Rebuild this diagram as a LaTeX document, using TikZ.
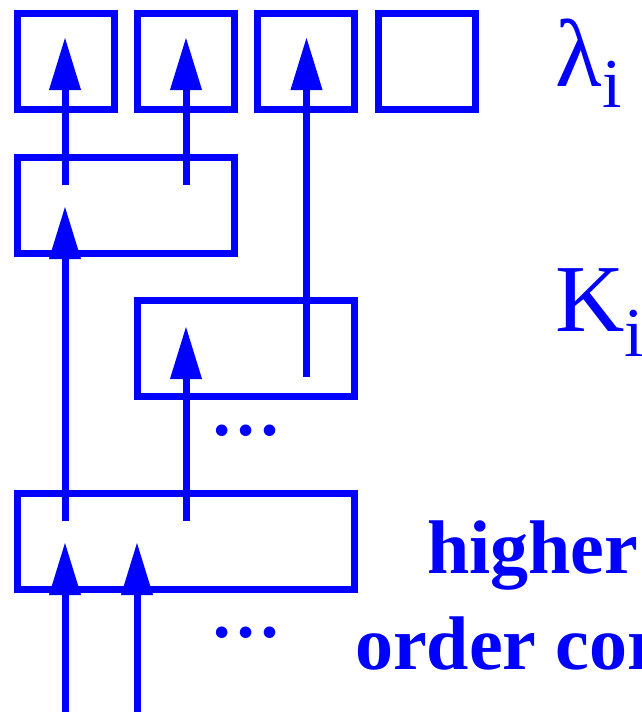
\documentclass[tikz,border=0pt]{standalone}
\usepackage{fontspec}
\setmainfont{Liberation Serif}
\usetikzlibrary{arrows.meta}
\definecolor{pureblue}{RGB}{0,0,255}
\begin{document}
\begin{tikzpicture}[x=1pt,y=-1pt,
  box/.style={draw=pureblue,line width=7pt,minimum width=#1,minimum height=96pt,inner sep=0pt,outer sep=0pt},
  conn/.style={draw=pureblue,line width=7pt,-{Triangle[length=53pt,width=30pt]}},
  label/.style={text=pureblue,inner sep=0pt,anchor=base west,font=\fontsize{96}{100}\selectfont},
  blabel/.style={text=pureblue,inner sep=0pt,anchor=base west,font=\fontsize{76}{80}\selectfont\bfseries},
  dotsnode/.style={text=pureblue,inner sep=0pt,font=\fontsize{71}{71}\selectfont\bfseries}]
\useasboundingbox (0,0) rectangle (642,712);
% top row
\node[box=97pt] (t1) at (65.5,61.2) {};
\node[box=97pt] (t2) at (186,61.2) {};
\node[box=97pt] (t3) at (306.2,61.2) {};
\node[box=97pt] (t4) at (427.2,61.2) {};
% second row
\node[box=217.4pt] (m) at (125.7,205) {};
\node[box=216.8pt] (k) at (246.1,348.75) {};
\node[box=337.5pt] (b) at (185.75,541.7) {};
% connector ends
\coordinate (a1s) at (65,185);  \coordinate (a1e) at (65,37);
\coordinate (a2s) at (186,185); \coordinate (a2e) at (186,37);
\coordinate (a3s) at (306.5,377); \coordinate (a3e) at (306.5,37);
\coordinate (a4s) at (65,521);  \coordinate (a4e) at (65,206);
\coordinate (a5s) at (186,521); \coordinate (a5e) at (186,326);
\coordinate (a6s) at (65,712);  \coordinate (a6e) at (65,542);
\coordinate (a7s) at (137,712); \coordinate (a7e) at (137,542);
\draw[conn] (a1s) -- (a1e);
\draw[conn] (a2s) -- (a2e);
\draw[conn] (a3s) -- (a3e);
\draw[conn] (a4s) -- (a4e);
\draw[conn] (a5s) -- (a5e);
\draw[conn] (a6s) -- (a6e);
\draw[conn] (a7s) -- (a7e);
% dots
\node[dotsnode] (d1) at (245.7,431) {…};
\node[dotsnode] (d2) at (245.7,633) {…};
% labels
\node[label] (lam) at (555.6,86) {λ\raisebox{-21pt}{\fontsize{70}{70}\selectfont i}};
\node[label] (kk) at (555,331.7) {K\raisebox{-25pt}{\fontsize{70}{70}\selectfont i}};
\node[blabel] (hi) at (427,573.3) {higher};
\node[blabel] (oc) at (355,669) {order corrections};
\end{tikzpicture}
\end{document}
